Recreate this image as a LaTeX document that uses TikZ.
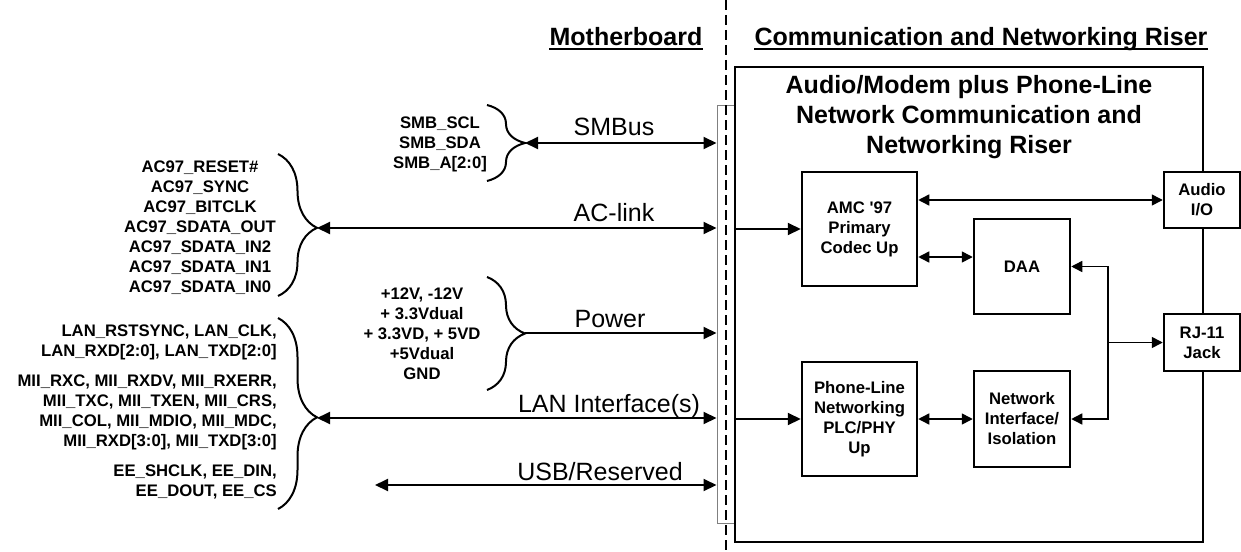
\documentclass[tikz,border=0pt]{standalone}
\usepackage{fontspec}
\setmainfont{Liberation Sans}
\usetikzlibrary{arrows.meta,decorations.pathreplacing}
\newcommand\sigfont{\fontsize{16.7}{20}\selectfont\bfseries}
\newcommand\busfont{\fontsize{25}{30}\selectfont}
\newcommand\headfont{\fontsize{25}{30}\selectfont\bfseries}
\begin{document}
\begin{tikzpicture}[x=1pt,y=-1pt,
  box/.style={draw,line width=2.5pt,fill=white,inner sep=0pt,align=center,font=\sigfont},
  sig/.style={inner sep=0pt,align=center,font=\sigfont},
  buslabel/.style={inner sep=0pt,anchor=base,font=\busfont},
  bus/.style={line width=2pt,>={Triangle[length=13pt,width=12pt]}},
  link/.style={line width=1.5pt,>={Triangle[length=11pt,width=11pt]}},
  sigbrace/.style={decorate,line width=2pt}]
  \useasboundingbox (0,0) rectangle (1241,551);
  % headings
  \node[inner sep=0pt,anchor=base,font=\headfont] (mbhead) at (626,46) {Motherboard};
  \node[inner sep=0pt,anchor=base,font=\headfont] (rshead) at (981,46) {Communication and Networking Riser};
  \draw[line width=2pt] ([yshift=-3.5pt]mbhead.base west) -- ([yshift=-3.5pt]mbhead.base east);
  \draw[line width=2pt] ([yshift=-3.5pt]rshead.base west) -- ([yshift=-3.5pt]rshead.base east);
  % riser slot and board edge
  \node[draw=gray,line width=1pt,fill=white,inner sep=0pt,minimum width=18pt,minimum height=418pt] (slot) at (726,314) {};
  \draw[line width=1.3pt,dash pattern=on 10pt off 5pt] (726,0) -- (726,551);
  \node[draw,line width=2.5pt,inner sep=0pt,minimum width=468pt,minimum height=475pt] (riser) at (969,304.5) {};
  \node[inner sep=0pt,anchor=north,align=center,font=\headfont] (title) at (969,75)
    {Audio/Modem plus Phone-Line\\Network Communication and\\Networking Riser};
  % signal groups
  \node[sig] (smbsig) at (440,144) {SMB\_SCL\\SMB\_SDA\\SMB\_A[2:0]};
  \node[sig] (acsig) at (200,228) {AC97\_RESET\#\\AC97\_SYNC\\AC97\_BITCLK\\AC97\_SDATA\_OUT\\AC97\_SDATA\_IN2\\AC97\_SDATA\_IN1\\AC97\_SDATA\_IN0};
  \node[sig] (pwrsig) at (422,334) {+12V, -12V\\+ 3.3Vdual\\+ 3.3VD, + 5VD\\+5Vdual\\GND};
  \node[sig,anchor=east,align=right] (lansig) at (277,412)
    {LAN\_RSTSYNC, LAN\_CLK,\\LAN\_RXD[2:0], LAN\_TXD[2:0]\\[10pt]MII\_RXC, MII\_RXDV, MII\_RXERR,\\MII\_TXC, MII\_TXEN, MII\_CRS,\\MII\_COL, MII\_MDIO, MII\_MDC,\\MII\_RXD[3:0], MII\_TXD[3:0]\\[10pt]EE\_SHCLK, EE\_DIN,\\EE\_DOUT, EE\_CS};
  \draw[sigbrace,decoration={brace,amplitude=38pt}] (487,105) -- (487,181);
  \draw[sigbrace,decoration={brace,amplitude=39pt,aspect=0.52}] (278,154) -- (278,296);
  \draw[sigbrace,decoration={brace,amplitude=38pt}] (487,277) -- (487,390);
  \draw[sigbrace,decoration={brace,amplitude=39pt,aspect=0.52}] (278,318) -- (278,509);
  \coordinate (smbtip) at (525,143);
  \coordinate (actip) at (317,228);
  \coordinate (pwrtip) at (525,333);
  \coordinate (lantip) at (317,418);
  \coordinate (usbend) at (375,485);
  % buses
  \draw[bus,<->] (smbtip) -- (smbtip -| slot.west);
  \draw[bus,<->] (actip) -- (actip -| slot.west);
  \draw[bus,->] (pwrtip) -- (pwrtip -| slot.west);
  \draw[bus,<->] (lantip) -- (lantip -| slot.west);
  \draw[bus,<->] (usbend) -- (usbend -| slot.west);
  \node[buslabel] (smblab) at (614,135) {SMBus};
  \node[buslabel] (aclab) at (614,221) {AC-link};
  \node[buslabel] (pwrlab) at (610,327) {Power};
  \node[buslabel] (lanlab) at (609,412) {LAN Interface(s)};
  \node[buslabel] (usblab) at (600,480) {USB/Reserved};
  % riser blocks
  \node[box,minimum width=115pt,minimum height=114pt] (amc) at (859.5,229) {AMC \textquotesingle97\\Primary\\Codec Up};
  \node[box,minimum width=96pt,minimum height=95pt] (daa) at (1022,266.5) {DAA};
  \node[box,minimum width=115pt,minimum height=114pt] (phone) at (859.5,419) {Phone-Line\\Networking\\PLC/PHY\\Up};
  \node[box,minimum width=96pt,minimum height=96pt] (netif) at (1022,419) {Network\\Interface/\\Isolation};
  \node[box,minimum width=76pt,minimum height=56pt] (audio) at (1202,200) {Audio\\I/O};
  \node[box,minimum width=76pt,minimum height=57pt] (rj) at (1202,342.5) {RJ-11\\Jack};
  \draw[bus,->] (riser.west |- amc) -- (amc);
  \draw[bus,->] (riser.west |- phone) -- (phone);
  \draw[link,<->] (amc.east |- audio.west) -- (audio.west);
  \draw[link,<->] ([yshift=-28pt]amc.east) -- ([yshift=-28pt]amc.east -| daa.west);
  \draw[link,<->] (phone) -- (netif);
  \coordinate (jn) at (1108,342.5);
  \draw[link,->] (jn) |- (daa);
  \draw[link,->] (jn) |- (netif);
  \draw[link,->] (jn) -- (rj);
\end{tikzpicture}
\end{document}
